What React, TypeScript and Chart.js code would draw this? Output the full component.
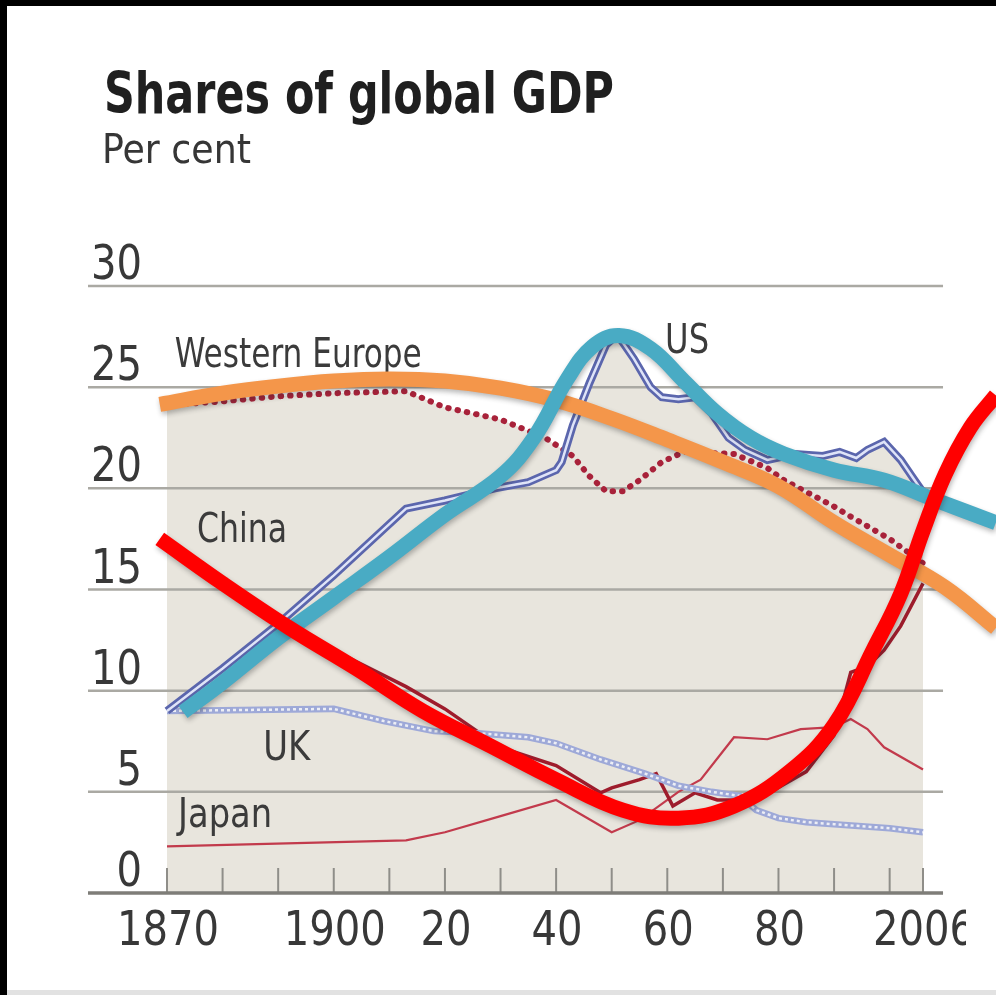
import React, { useEffect, useRef } from 'react';
import { Chart, registerables } from 'chart.js';

Chart.register(...registerables);

// ---------------- data ----------------
const usYears = [1870, 1880, 1890, 1900, 1913, 1920, 1929, 1935, 1940, 1941, 1943, 1946, 1949, 1951, 1954, 1957, 1959, 1962, 1965, 1968, 1971, 1974, 1978, 1983, 1988, 1991, 1994, 1996, 1999, 2002, 2004, 2006];
const usValues = [9.0, 11.1, 13.3, 15.7, 19.0, 19.4, 20.0, 20.3, 20.9, 21.3, 23.1, 25.2, 27.1, 27.6, 26.4, 25.0, 24.5, 24.4, 24.5, 23.7, 22.5, 21.9, 21.4, 21.7, 21.6, 21.8, 21.5, 21.9, 22.3, 21.4, 20.6, 19.8];

const weYears = [1870, 1880, 1890, 1900, 1913, 1920, 1930, 1938, 1943, 1946, 1949, 1952, 1955, 1959, 1963, 1972, 1978, 1981, 1990, 1993, 2000, 2006];
const weValues = [24.1, 24.3, 24.55, 24.7, 24.8, 24.0, 23.4, 22.5, 21.6, 20.6, 19.85, 19.85, 20.4, 21.3, 21.8, 21.7, 21.0, 20.4, 19.1, 18.6, 17.5, 16.3];

const chinaYears = [1870, 1880, 1890, 1900, 1913, 1920, 1930, 1940, 1948, 1950, 1955, 1958, 1961, 1965, 1969, 1973, 1978, 1985, 1990, 1993, 1996, 1999, 2002, 2006];
const chinaValues = [17.2, 15.4, 13.6, 12.0, 10.2, 9.1, 7.2, 6.3, 4.95, 5.2, 5.6, 5.9, 4.3, 4.95, 4.6, 4.6, 4.9, 6.0, 7.8, 10.9, 11.2, 12.0, 13.2, 15.3];

const ukYears = [1870, 1900, 1909, 1918, 1926, 1935, 1940, 1948, 1956, 1962, 1968, 1973, 1976, 1980, 1985, 1990, 1995, 2000, 2006];
const ukValues = [9.0, 9.1, 8.5, 8.0, 7.9, 7.7, 7.4, 6.6, 5.9, 5.3, 5.0, 4.8, 4.1, 3.7, 3.5, 3.4, 3.3, 3.2, 3.0];

const japanYears = [1870, 1913, 1920, 1930, 1940, 1950, 1955, 1962, 1966, 1972, 1978, 1984, 1990, 1993, 1996, 1999, 2006];
const japanValues = [2.3, 2.6, 3.0, 3.8, 4.6, 3.0, 3.6, 5.0, 5.6, 7.7, 7.6, 8.1, 8.2, 8.6, 8.1, 7.2, 6.1];

// hand-drawn trend overlays
const orangeYears = [1868.7, 1880, 1890, 1900, 1910, 1920, 1930, 1940, 1950, 1960, 1970, 1980, 1990, 2000, 2010, 2019.1];
const orangeValues = [24.15, 24.7, 25.05, 25.3, 25.4, 25.3, 24.95, 24.35, 23.45, 22.4, 21.3, 20.1, 18.3, 16.7, 15.1, 13.1];

const cyanYears = [1872.9, 1880, 1890, 1900, 1910, 1920, 1930, 1936, 1942, 1946.5, 1951.3, 1957, 1963, 1969, 1975, 1981, 1990, 1999, 2008, 2019.1];
const cyanValues = [8.95, 10.4, 12.6, 14.6, 16.6, 18.7, 20.6, 22.5, 25.4, 27.0, 27.55, 26.9, 25.3, 23.7, 22.5, 21.7, 20.9, 20.4, 19.45, 18.3];

const redYears = [1868.7, 1880, 1892, 1904, 1916, 1928, 1940, 1952, 1962, 1972, 1982, 1990, 1997, 2002, 2006, 2010, 2014.5, 2019.1];
const redValues = [17.5, 15.3, 13.1, 11.1, 9.0, 7.3, 5.6, 4.1, 3.7, 4.3, 6.0, 8.3, 12.0, 14.8, 17.9, 20.7, 23.0, 24.6];

const yTicks = [0, 5, 10, 15, 20, 25, 30];
const xTickYears = [1870, 1880, 1890, 1900, 1910, 1920, 1930, 1940, 1950, 1960, 1970, 1980, 1990, 2000, 2006];
const xLabelYears = [1870, 1900, 1920, 1940, 1960, 1980, 2006];
const xLabelTexts = ['1870', '1900', '20', '40', '60', '80', '2006'];

const seriesLabelTexts = ['Western Europe', 'US', 'China', 'UK', 'Japan'];
const seriesLabelYears = [1871.4, 1959.6, 1875.4, 1887.3, 1872];
const seriesLabelValues = [26.0, 26.7, 17.35, 6.57, 3.26];

const TITLE = 'Shares of global GDP';
const SUBTITLE = 'Per cent';

// ---------------- styles ----------------
const W = 996;
const H = 995;
const X_MIN = 1855.79;
const X_MAX = 2019.13;
const GRID_END_YEAR = 2009.6;
const BEIGE = '#e8e5dd';
const FONT = "'Liberation Sans Narrow', 'DejaVu Sans Condensed', 'Roboto Condensed', 'Liberation Sans', sans-serif";
const labelWidths = [247, 44, 90, 47, 94];

const pts = (xs: number[], ys: number[]) => xs.map((x, i) => ({ x, y: ys[i] }));

function drawFitted(ctx: CanvasRenderingContext2D, text: string, x: number, y: number, size: number, weight: string, color: string, sx: number, align: 'left' | 'center' | 'right') {
  ctx.save();
  ctx.font = `${weight} ${size}px ${FONT}`;
  ctx.fillStyle = color;
  ctx.textBaseline = 'alphabetic';
  ctx.textAlign = 'left';
  const w = ctx.measureText(text).width * sx;
  let left = x;
  if (align === 'center') left = x - w / 2;
  else if (align === 'right') left = x - w;
  ctx.translate(left, y);
  ctx.scale(sx, 1);
  ctx.fillText(text, 0, 0);
  ctx.restore();
}

function scaleFor(ctx: CanvasRenderingContext2D, text: string, size: number, weight: string, target: number) {
  ctx.save();
  ctx.font = `${weight} ${size}px ${FONT}`;
  const m = ctx.measureText(text).width;
  ctx.restore();
  return m > 0 ? target / m : 1;
}

const decorPlugin = {
  id: 'decor',
  beforeDatasetsDraw(chart: any) {
    const ctx: CanvasRenderingContext2D = chart.ctx;
    const xs = chart.scales.x;
    const ys = chart.scales.y;
    const left = chart.chartArea.left;
    const right = xs.getPixelForValue(GRID_END_YEAR);
    ctx.save();
    yTicks.forEach((v) => {
      if (v === 0) return;
      const py = ys.getPixelForValue(v);
      ctx.strokeStyle = '#aaa9a3';
      ctx.lineWidth = 2.5;
      ctx.beginPath();
      ctx.moveTo(left, py);
      ctx.lineTo(right, py);
      ctx.stroke();
    });
    const y0 = ys.getPixelForValue(0);
    ctx.strokeStyle = '#8f8e89';
    ctx.lineWidth = 2;
    xTickYears.forEach((yr) => {
      const px = xs.getPixelForValue(yr);
      ctx.beginPath();
      ctx.moveTo(px, y0);
      ctx.lineTo(px, y0 - 25);
      ctx.stroke();
    });
    ctx.strokeStyle = '#7e7d78';
    ctx.lineWidth = 3.5;
    ctx.beginPath();
    ctx.moveTo(left, y0);
    ctx.lineTo(right, y0);
    ctx.stroke();
    ctx.restore();
    seriesLabelTexts.forEach((t, i) => {
      const sx = scaleFor(ctx, t, 41, 'normal', labelWidths[i]);
      drawFitted(ctx, t, xs.getPixelForValue(seriesLabelYears[i]), ys.getPixelForValue(seriesLabelValues[i]), 41, 'normal', '#3b3b3b', sx, 'left');
    });
  },
  beforeDatasetDraw(chart: any, args: any) {
    const ds = chart.data.datasets[args.index];
    if (ds.overlay) {
      const ctx = chart.ctx;
      ctx.save();
      ctx.shadowColor = 'rgba(40,40,40,0.32)';
      ctx.shadowBlur = 5;
      ctx.shadowOffsetX = 1;
      ctx.shadowOffsetY = 3;
    }
  },
  afterDatasetDraw(chart: any, args: any) {
    const ds = chart.data.datasets[args.index];
    if (ds.overlay) chart.ctx.restore();
  },
  afterDraw(chart: any) {
    const ctx: CanvasRenderingContext2D = chart.ctx;
    const xs = chart.scales.x;
    const ys = chart.scales.y;
    const tsx = scaleFor(ctx, TITLE, 57, 'bold', 510);
    drawFitted(ctx, TITLE, 104, 113, 57, 'bold', '#1f1f1f', tsx, 'left');
    const ssx = scaleFor(ctx, SUBTITLE, 41, 'normal', 149);
    drawFitted(ctx, SUBTITLE, 102, 163, 41, 'normal', '#363636', ssx, 'left');
    const dsx = scaleFor(ctx, '30', 48, 'normal', 51);
    yTicks.forEach((v) => {
      drawFitted(ctx, String(v), 142, ys.getPixelForValue(v) - 7, 48, 'normal', '#383838', dsx, 'right');
    });
    ctx.save();
    ctx.beginPath();
    ctx.rect(0, 0, 966, H);
    ctx.clip();
    xLabelYears.forEach((yr, i) => {
      drawFitted(ctx, xLabelTexts[i], xs.getPixelForValue(yr) + 1, 945, 48, 'normal', '#383838', dsx, 'center');
    });
    ctx.restore();
  },
};

export default function App() {
  const ref = useRef<HTMLCanvasElement | null>(null);
  useEffect(() => {
    if (!ref.current) return;
    const usData = pts(usYears, usValues);
    const ukData = pts(ukYears, ukValues);
    const chart = new Chart(ref.current, {
      type: 'line',
      data: {
        datasets: [
          { label: 'China trend', data: pts(redYears, redValues), borderColor: '#ff0000', borderWidth: 15, tension: 0.4, clip: false, order: 0, overlay: true } as any,
          { label: 'US trend', data: pts(cyanYears, cyanValues), borderColor: '#49abc4', borderWidth: 15, tension: 0.4, clip: false, order: 1, overlay: true } as any,
          { label: 'Western Europe trend', data: pts(orangeYears, orangeValues), borderColor: '#f4964a', borderWidth: 15, tension: 0.4, clip: false, order: 2, overlay: true } as any,
          { label: 'US inner', data: usData, borderColor: '#dfe4f8', borderWidth: 2.5, order: 3 },
          { label: 'US', data: usData, borderColor: '#5b66ad', borderWidth: 8, fill: 'origin', backgroundColor: BEIGE, order: 4 },
          { label: 'Western Europe', data: pts(weYears, weValues), borderColor: '#a8223a', borderWidth: 6, borderDash: [0.5, 9], borderCapStyle: 'round', fill: 'origin', backgroundColor: BEIGE, order: 5 },
          { label: 'UK inner', data: ukData, borderColor: '#eceef5', borderWidth: 2.5, borderDash: [3, 3], order: 6 },
          { label: 'UK', data: ukData, borderColor: '#9ea9d8', borderWidth: 6.5, order: 7 },
          { label: 'China', data: pts(chinaYears, chinaValues), borderColor: '#9e1c2c', borderWidth: 3.5, order: 8 },
          { label: 'Japan', data: pts(japanYears, japanValues), borderColor: '#c23a4c', borderWidth: 2.2, order: 9 },
        ],
      },
      options: {
        responsive: false,
        animation: false,
        devicePixelRatio: 1,
        layout: { padding: { left: 88, right: 0, top: 286, bottom: 102 } },
        scales: {
          x: { type: 'linear', display: false, min: X_MIN, max: X_MAX },
          y: { display: false, min: 0, max: 30 },
        },
        elements: { point: { radius: 0 }, line: { tension: 0 } },
        plugins: {
          legend: { display: false },
          tooltip: { enabled: false },
          filler: { drawTime: 'beforeDraw', propagate: false },
        },
      } as any,
      plugins: [decorPlugin as any],
    });
    return () => chart.destroy();
  }, []);

  return (
    <div style={{ position: 'absolute', left: 0, top: 0, width: W, height: H, background: '#fff', overflow: 'hidden' }}>
      <canvas ref={ref} width={W} height={H} style={{ display: 'block', position: 'absolute', left: 0, top: 0 }} />
      <div style={{ position: 'absolute', left: 0, top: 0, width: W, height: 6, background: '#000' }} />
      <div style={{ position: 'absolute', left: 0, top: 0, width: 7, height: H, background: '#000' }} />
      <div style={{ position: 'absolute', left: 7, top: 990, width: W, height: 5, background: '#e2e2e2' }} />
    </div>
  );
}
